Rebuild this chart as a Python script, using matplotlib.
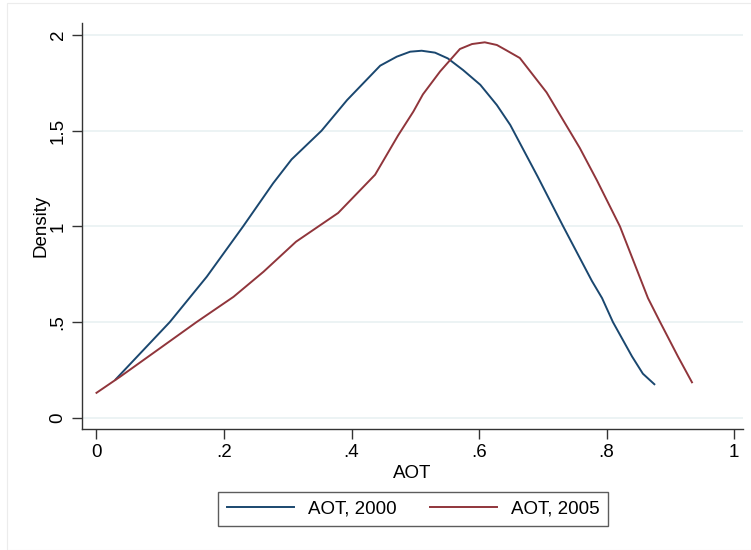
import matplotlib as mpl

mpl.use('Agg')

import matplotlib.pyplot as plt
from matplotlib.patches import Rectangle

FONT_NAME = 'Liberation Sans'
TICK_FONT_SIZE = 13.5
LABEL_FONT_SIZE = 13.5
LEGEND_FONT_SIZE = 13.5

NAVY = '#1a476f'
MAROON = '#90353b'
GRID_COLOR = '#eaf2f3'
AXIS_COLOR = '#333333'

mpl.rcParams['font.family'] = FONT_NAME

# kernel density of AOT, 2000
aot2000_x = [0.030, 0.115, 0.173, 0.230, 0.277, 0.306, 0.353, 0.393, 0.445,
             0.471, 0.492, 0.510, 0.531, 0.551, 0.575, 0.602, 0.628, 0.649,
             0.692, 0.732, 0.777, 0.793, 0.810, 0.840, 0.857, 0.875]
aot2000_y = [0.200, 0.500, 0.737, 1.000, 1.225, 1.350, 1.500, 1.660, 1.840,
             1.887, 1.913, 1.918, 1.908, 1.878, 1.817, 1.740, 1.634, 1.530,
             1.260, 1.000, 0.715, 0.625, 0.500, 0.320, 0.230, 0.175]

# kernel density of AOT, 2005
aot2005_x = [0.000, 0.037, 0.100, 0.157, 0.215, 0.262, 0.313, 0.379, 0.437,
             0.473, 0.497, 0.512, 0.539, 0.570, 0.589, 0.609, 0.628, 0.643,
             0.664, 0.706, 0.758, 0.785, 0.821, 0.865, 0.884, 0.912, 0.934]
aot2005_y = [0.130, 0.214, 0.364, 0.500, 0.632, 0.763, 0.920, 1.070, 1.270,
             1.475, 1.600, 1.690, 1.810, 1.927, 1.953, 1.962, 1.948, 1.920,
             1.880, 1.700, 1.410, 1.240, 1.000, 0.625, 0.500, 0.320, 0.185]

x_ticks = [0, 0.2, 0.4, 0.6, 0.8, 1.0]
x_tick_labels = ['0', '.2', '.4', '.6', '.8', '1']
y_ticks = [0, 0.5, 1.0, 1.5, 2.0]
y_tick_labels = ['0', '.5', '1', '1.5', '2']
legend_labels = ['AOT, 2000', 'AOT, 2005']

fig = plt.figure(figsize=(7.51, 5.5), dpi=100)
ax = fig.add_axes([0.1092, 0.22, 0.8802, 0.7382])

# faint outer frame of the graph region
fig.patches.append(Rectangle((7 / 751, 0), 1, 1 - 3 / 550, transform=fig.transFigure,
                             fill=False, edgecolor='#ececec', linewidth=0.8))

for y in y_ticks:
    ax.axhline(y, color=GRID_COLOR, linewidth=1.3, zorder=0)

l1, = ax.plot(aot2000_x, aot2000_y, color=NAVY, linewidth=1.4)
l2, = ax.plot(aot2005_x, aot2005_y, color=MAROON, linewidth=1.4)

ax.set_xlim(-0.0227, 1.0141)
ax.set_ylim(-0.059, 2.063)

ax.set_xticks(x_ticks)
ax.set_xticklabels(x_tick_labels)
ax.set_yticks(y_ticks)
ax.set_yticklabels(y_tick_labels, rotation=90, va='center')

ax.tick_params(axis='both', length=7, width=1, color=AXIS_COLOR,
               labelsize=TICK_FONT_SIZE, pad=4)

for side in ['top', 'right']:
    ax.spines[side].set_visible(False)
for side in ['left', 'bottom']:
    ax.spines[side].set_color(AXIS_COLOR)
    ax.spines[side].set_linewidth(1.0)

ax.set_xlabel('AOT', fontsize=LABEL_FONT_SIZE, labelpad=3)
ax.set_ylabel('Density', fontsize=LABEL_FONT_SIZE, labelpad=0)

leg = fig.legend([l1, l2], legend_labels, loc='center', bbox_to_anchor=(0.55, 0.0745),
                 ncol=2, fontsize=LEGEND_FONT_SIZE, frameon=True, fancybox=False,
                 handlelength=3.6, handletextpad=0.7, columnspacing=1.8,
                 borderpad=0.45)
leg.get_frame().set_edgecolor('#333333')
leg.get_frame().set_linewidth(1.0)

fig.savefig('out.png', dpi=100)
